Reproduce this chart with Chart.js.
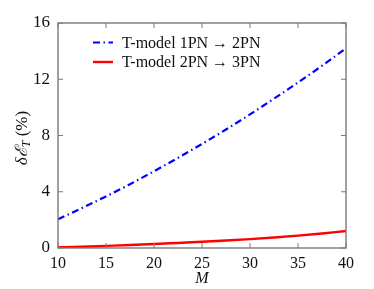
<!DOCTYPE html>
<html>
<head>
<meta charset="utf-8">
<script src="https://cdn.jsdelivr.net/npm/chart.js@4/dist/chart.umd.min.js"></script>
<style>
  html, body { margin: 0; padding: 0; background: #fff; }
</style>
</head>
<body>
<canvas id="chart" width="374" height="289"></canvas>
<script>
// values
const massValues = [10, 12.5, 15, 17.5, 20, 22.5, 25, 27.5, 30, 32.5, 35, 37.5, 40];
const err1to2 = [2.05, 2.84, 3.67, 4.54, 5.46, 6.41, 7.40, 8.43, 9.50, 10.62, 11.77, 12.96, 14.2];
const err2to3 = [0.05, 0.09, 0.15, 0.21, 0.28, 0.36, 0.44, 0.53, 0.63, 0.75, 0.88, 1.03, 1.21];
const seriesLabels = ['T-model 1PN \u2192 2PN', 'T-model 2PN \u2192 3PN'];
const xTicks = [10, 15, 20, 25, 30, 35, 40];
const yTicks = [0, 4, 8, 12, 16];

const SERIF = '"Liberation Serif", "DejaVu Serif", serif';
const FRAME = '#7a7a7a';

const toPoints = ys => ys.map((y, i) => ({ x: massValues[i], y }));

// frame + inward ticks on all four sides
const framePlugin = {
  id: 'frame',
  afterDraw(chart) {
    const { ctx, chartArea: a, scales } = chart;
    ctx.save();
    ctx.strokeStyle = FRAME;
    ctx.lineWidth = 1.4;
    ctx.strokeRect(a.left, a.top, a.right - a.left, a.bottom - a.top);
    ctx.lineWidth = 1;
    const len = 5;
    xTicks.forEach(v => {
      const px = scales.x.getPixelForValue(v);
      ctx.beginPath();
      ctx.moveTo(px, a.bottom); ctx.lineTo(px, a.bottom - len);
      ctx.moveTo(px, a.top); ctx.lineTo(px, a.top + len);
      ctx.stroke();
    });
    yTicks.forEach(v => {
      const py = scales.y.getPixelForValue(v);
      ctx.beginPath();
      ctx.moveTo(a.left, py); ctx.lineTo(a.left + len, py);
      ctx.moveTo(a.right, py); ctx.lineTo(a.right - len, py);
      ctx.stroke();
    });
    ctx.restore();
  }
};

// legend drawn inside the plot area
const innerLegend = {
  id: 'innerLegend',
  afterDraw(chart) {
    const { ctx, chartArea: a } = chart;
    ctx.save();
    ctx.font = '16px ' + SERIF;
    ctx.textBaseline = 'middle';
    chart.data.datasets.forEach((ds, i) => {
      const y = a.top + 19.5 + i * 19.5;
      const x0 = a.left + 35;
      ctx.strokeStyle = ds.borderColor;
      ctx.lineWidth = ds.borderWidth;
      ctx.setLineDash(ds.borderDash || []);
      ctx.beginPath();
      ctx.moveTo(x0, y); ctx.lineTo(x0 + 20, y);
      ctx.stroke();
      ctx.setLineDash([]);
      ctx.fillStyle = '#111';
      ctx.fillText(ds.label, x0 + 29, y + 1);
    });
    ctx.restore();
  }
};

// y title: δℰ_T (%) rotated
const yTitle = {
  id: 'yTitle',
  afterDraw(chart) {
    const { ctx } = chart;
    const cy = 138;
    ctx.save();
    ctx.translate(23, cy);
    ctx.rotate(-Math.PI / 2);
    ctx.fillStyle = '#111';
    ctx.textBaseline = 'middle';
    const part1 = '\u03b4\u2130';
    const sub = 'T';
    const part2 = ' (%)';
    ctx.font = 'italic 17px ' + SERIF;
    const w1 = ctx.measureText(part1).width;
    ctx.font = 'italic 12px ' + SERIF;
    const ws = ctx.measureText(sub).width;
    ctx.font = '17px ' + SERIF;
    const w2 = ctx.measureText(part2).width;
    let x = -(w1 + ws + w2) / 2;
    ctx.textAlign = 'left';
    ctx.font = 'italic 17px ' + SERIF;
    ctx.fillText(part1, x, 0);
    x += w1;
    ctx.font = 'italic 12px ' + SERIF;
    ctx.fillText(sub, x, 4);
    x += ws;
    ctx.font = '17px ' + SERIF;
    ctx.fillText(part2, x, 0);
    ctx.restore();
  }
};

new Chart(document.getElementById('chart'), {
  type: 'line',
  data: {
    datasets: [
      {
        label: seriesLabels[0],
        data: toPoints(err1to2),
        borderColor: '#0000ff',
        borderWidth: 2.2,
        borderDash: [7, 3.5, 1.5, 3.5],
        pointRadius: 0,
        tension: 0.4,
        cubicInterpolationMode: 'monotone',
      },
      {
        label: seriesLabels[1],
        data: toPoints(err2to3),
        borderColor: '#ff0000',
        borderWidth: 2.4,
        pointRadius: 0,
        tension: 0.4,
        cubicInterpolationMode: 'monotone',
      },
    ],
  },
  options: {
    responsive: false,
    animation: false,
    devicePixelRatio: 1,
    layout: { padding: { top: 23, right: 28, left: 0, bottom: 0 } },
    plugins: { legend: { display: false }, tooltip: { enabled: false } },
    scales: {
      x: {
        type: 'linear',
        min: 10, max: 40,
        afterBuildTicks: s => { s.ticks = xTicks.map(v => ({ value: v })); },
        afterFit: s => { s.height = 41; },
        grid: { display: false, drawTicks: false },
        border: { display: false },
        ticks: { color: '#111', padding: 6, maxRotation: 0, font: { family: SERIF, size: 16 } },
        title: {
          display: true, text: 'M', color: '#111', padding: { top: -4, bottom: 1 },
          font: { family: SERIF, size: 16, style: 'italic' },
        },
      },
      y: {
        min: 0, max: 16,
        afterBuildTicks: s => { s.ticks = yTicks.map(v => ({ value: v })); },
        afterFit: s => { s.width = 58; },
        grid: { display: false, drawTicks: false },
        border: { display: false },
        ticks: { color: '#111', padding: 8, font: { family: SERIF, size: 17 } },
      },
    },
  },
  plugins: [framePlugin, innerLegend, yTitle],
});
</script>
</body>
</html>
